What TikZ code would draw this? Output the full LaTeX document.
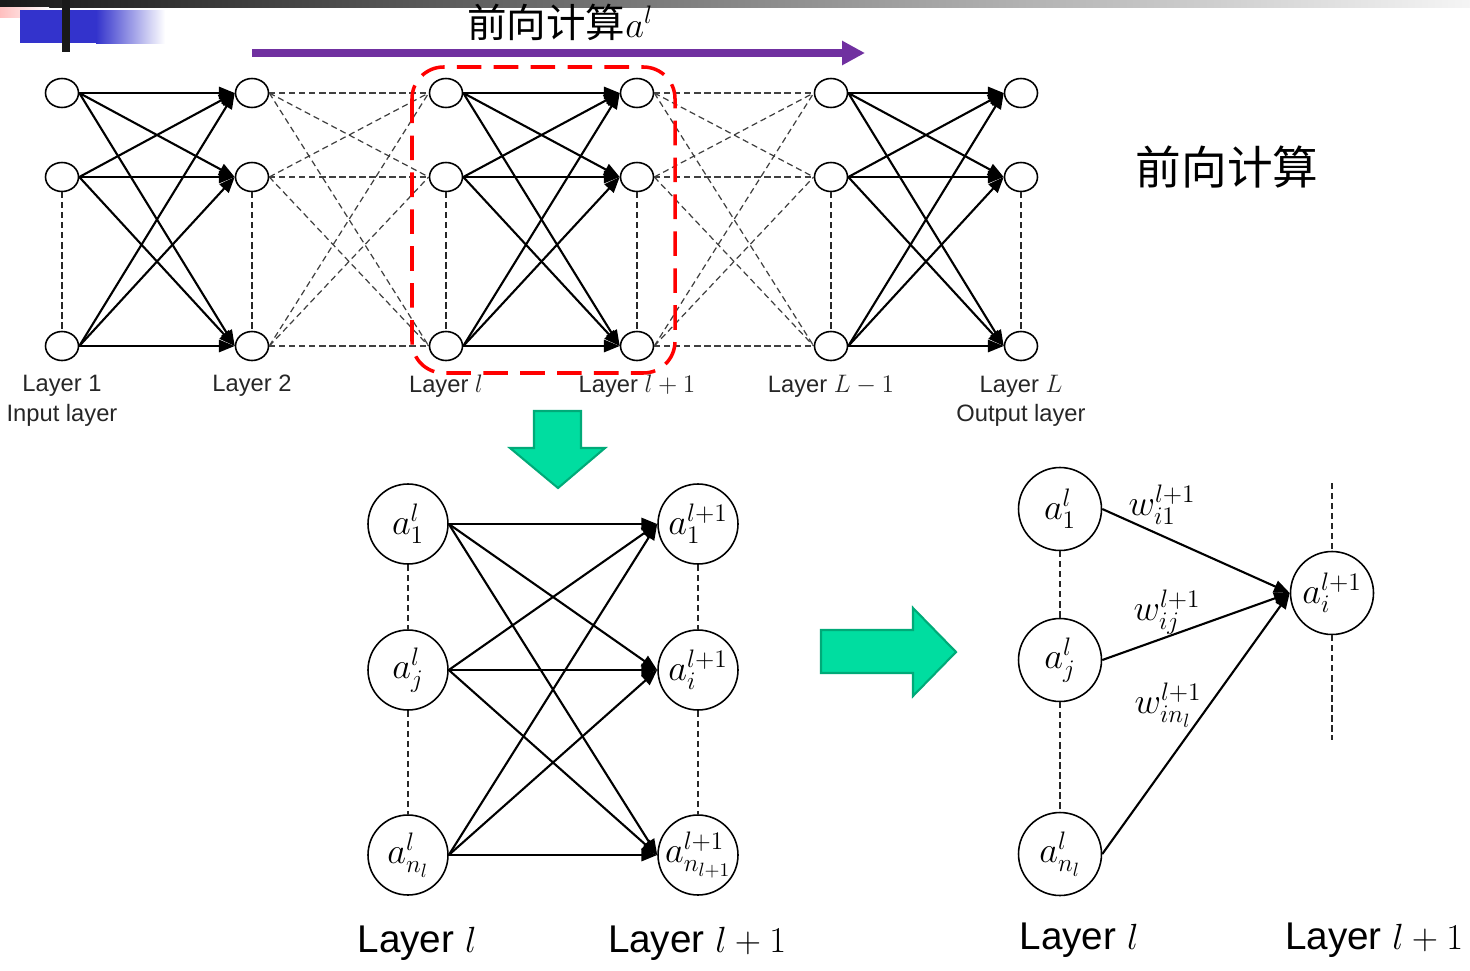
\documentclass[tikz,border=0pt]{standalone}
\usepackage{fontspec}
\setmainfont{Liberation Sans}
\newfontfamily\cjk{Noto Sans CJK SC}
\usetikzlibrary{arrows.meta,shapes.geometric}
\definecolor{arrowgreen}{RGB}{0,221,160}
\definecolor{arrowedge}{RGB}{0,170,120}
\definecolor{fwdpurple}{RGB}{112,48,160}
\definecolor{slideblue}{RGB}{51,51,204}
\tikzset{
	unit/.style={draw, ellipse, line width=0.9pt, minimum width=0.66cm, minimum height=0.58cm, inner sep=0pt},
	neuron/.style={draw, circle, line width=0.9pt, minimum size=1.6cm, inner sep=-3pt, font=\fontsize{22}{24}\selectfont},
	link/.style={line width=1.2pt, -{Triangle[length=9pt,width=7pt]}},
	weak/.style={dash pattern=on 3.5pt off 2.2pt, line width=0.7pt, black!75},
	vdash/.style={dash pattern=on 3.5pt off 2.2pt, line width=0.7pt, black!85},
	layerlabel/.style={font=\fontsize{13.5}{16}\selectfont, text=black!85},
	biglabel/.style={font=\fontsize{22}{26}\selectfont},
	wlabel/.style={font=\fontsize{22}{24}\selectfont},
	greenarrow/.style={fill=arrowgreen, draw=arrowedge, line width=1.2pt},
}

\begin{document}
\begin{tikzpicture}[x=0.02cm, y=-0.02cm]
		%%%%% START %%%%%
		\useasboundingbox (0,0) rectangle (1470,970);
		
		\shade[left color=black!90, right color=black!4] (0,0) rectangle (1470,7);
		\shade[left color=red!25, right color=white] (0,7) rectangle (49,17);
		\fill[slideblue] (20,10) rectangle (96,43);
		\shade[left color=slideblue, right color=white] (96,10) rectangle (165,43);
		\fill[black!90] (62,0) rectangle (70,52);
		
		\node[font={\cjk\fontsize{22.5}{24}\selectfont}] (title) at (560,22) {前向计算$a^l$};
		\coordinate (fwdstart) at (252,53);
		\coordinate (fwdend) at (865,53);
		\draw[fwdpurple, line width=4pt, -{Triangle[length=13pt,width=13pt]}] (fwdstart) -- (fwdend);
		\node[font={\cjk\fontsize{26}{28}\selectfont}] (fwdtext) at (1227,167) {前向计算};
		
		\foreach \c/\x in {1/62,2/252,3/446,4/637,5/831,6/1021}{
			\node[unit] (t\c1) at (\x,93) {};
			\node[unit] (t\c2) at (\x,177) {};
			\node[unit] (t\c3) at (\x,346) {};
			\draw[vdash] (t\c2) -- (t\c3);
		}
		\foreach \a/\b in {1/2,3/4,5/6}
			\foreach \i in {1,2,3}
				\foreach \j in {1,2,3}
					\draw[link] (t\a\i.east) -- (t\b\j.west);
		\foreach \a/\b in {2/3,4/5}
			\foreach \i in {1,2,3}
				\foreach \j in {1,2,3}
					\draw[weak] (t\a\i.east) -- (t\b\j.west);
		
		\draw[red, line width=2pt, dash pattern=on 14pt off 7pt, rounded corners=18pt] (412,67) rectangle (675,373);
		
		\node[layerlabel] (lab1) at (62,386) {Layer 1};
		\node[layerlabel] (in1) at (62,415) {Input layer};
		\node[layerlabel] (lab2) at (252,386) {Layer 2};
		\node[layerlabel] (lab3) at (446,386) {Layer $l$};
		\node[layerlabel] (lab4) at (637,386) {Layer $l+1$};
		\node[layerlabel] (lab5) at (831,386) {Layer $L-1$};
		\node[layerlabel] (lab6) at (1021,386) {Layer $L$};
		\node[layerlabel] (out6) at (1021,415) {Output layer};
		
		\filldraw[greenarrow] (534,411) -- (581,411) -- (581,448) -- (605,448) -- (558,488) -- (510,448) -- (534,448) -- cycle;
		\filldraw[greenarrow] (821,630) -- (913,630) -- (913,608) -- (956,652) -- (913,696) -- (913,673) -- (821,673) -- cycle;
		
		\node[neuron] (p1) at (408,524) {$a_1^l$};
		\node[neuron] (pj) at (408,670) {$a_j^l$};
		\node[neuron] (pn) at (408,855) {$a_{n_l}^l$};
		\node[neuron] (q1) at (698,524) {$a_1^{l+1}$};
		\node[neuron] (qi) at (698,670) {$a_i^{l+1}$};
		\node[neuron] (qn) at (698,855) {$a_{n_{l+1}}^{l+1}$};
		\draw[vdash] (p1) -- (pj);
		\draw[vdash] (pj) -- (pn);
		\draw[vdash] (q1) -- (qi);
		\draw[vdash] (qi) -- (qn);
		\foreach \s in {p1,pj,pn}
			\foreach \t in {q1,qi,qn}
				\draw[link] (\s.east) -- (\t.west);
		
		\node[neuron, minimum size=1.66cm] (r1) at (1060,509) {$a_1^l$};
		\node[neuron, minimum size=1.66cm] (rj) at (1060,660) {$a_j^l$};
		\node[neuron, minimum size=1.66cm] (rn) at (1060,854) {$a_{n_l}^l$};
		\node[neuron, minimum size=1.66cm] (ri) at (1332,593) {$a_i^{l+1}$};
		\coordinate (ritop) at (1332,483);
		\coordinate (ribot) at (1332,740);
		\draw[vdash] (r1) -- (rj);
		\draw[vdash] (rj) -- (rn);
		\draw[vdash] (ritop) -- (ri);
		\draw[vdash] (ri) -- (ribot);
		\draw[link] (r1.east) -- (ri.west);
		\draw[link] (rj.east) -- (ri.west);
		\draw[link] (rn.east) -- (ri.west);
		\node[wlabel] (w1) at (1162,505) {$w_{i1}^{l+1}$};
		\node[wlabel] (wj) at (1167,612) {$w_{ij}^{l+1}$};
		\node[wlabel] (wn) at (1168,705) {$w_{in_l}^{l+1}$};
		
		\node[biglabel] (bl1) at (417,943) {Layer $l$};
		\node[biglabel] (bl2) at (697,943) {Layer $l+1$};
		\node[biglabel] (bl3) at (1079,940) {Layer $l$};
		\node[biglabel] (bl4) at (1374,940) {Layer $l+1$};
		
		%%%%% END %%%%%
	\end{tikzpicture}
\end{document}
